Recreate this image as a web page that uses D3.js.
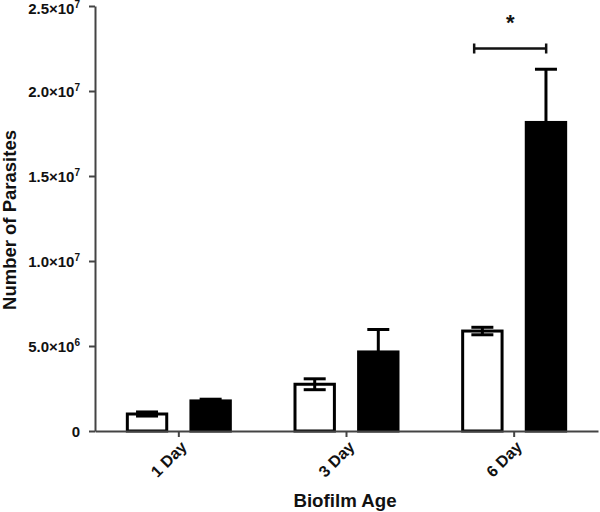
<!DOCTYPE html>
<html><head><meta charset="utf-8">
<script src="https://cdn.jsdelivr.net/npm/d3@7"></script>
<style>body{margin:0;background:#fff}svg{display:block}text{font-family:"Liberation Sans",Arial,sans-serif}</style>
</head><body>
<svg id="c" width="600" height="512"></svg>
<script>
const categories = ["1 Day", "3 Day", "6 Day"];
const seriesNames = ["Open", "Filled"];
const openValues = [1.0e6, 2.75e6, 5.88e6];
const openErrors = [0.12e6, 0.32e6, 0.22e6];
const filledValues = [1.77e6, 4.65e6, 18.15e6];
const filledErrors = [0.1e6, 1.32e6, 3.13e6];
const yTicks = [0, 5e6, 1e7, 1.5e7, 2e7, 2.5e7];
const yTickMantissa = ["0", "5.0×10", "1.0×10", "1.5×10", "2.0×10", "2.5×10"];
const yTickExponent = ["", "6", "7", "7", "7", "7"];
const sigBracket = {category: "6 Day", level: 2.25e7, label: "*"};

(function () {
const svg = d3.select("#c");
const mLeft = 95, mRight = 598, mTop = 6, mBottom = 431;
const x = d3.scaleBand().domain(categories).range([mLeft, mRight]).padding(0);
const sub = d3.scaleBand().domain(seriesNames).range([-53, 53]).paddingInner(1 / 3).paddingOuter(0);
const y = d3.scaleLinear().domain([0, 2.5e7]).range([mBottom, mTop]);

const data = [];
categories.forEach((c, i) => {
  data.push({c, s: "Open", v: openValues[i], e: openErrors[i]});
  data.push({c, s: "Filled", v: filledValues[i], e: filledErrors[i]});
});
const cx = d => x(d.c) + x.bandwidth() / 2 + sub(d.s) + sub.bandwidth() / 2;
const hw = 11;

// filled error bars (upper only)
const eg = svg.append("g").attr("stroke", "#000").attr("stroke-width", 3);
data.filter(d => d.s === "Filled").forEach(d => {
  const xc = cx(d);
  eg.append("line").attr("x1", xc).attr("x2", xc).attr("y1", y(d.v + d.e)).attr("y2", y(d.v));
  eg.append("line").attr("x1", xc - hw).attr("x2", xc + hw).attr("y1", y(d.v + d.e)).attr("y2", y(d.v + d.e));
});

// bars
svg.append("g").selectAll("rect").data(data).join("rect")
  .attr("x", d => cx(d) - sub.bandwidth() / 2 + 1.5)
  .attr("width", sub.bandwidth() - 3)
  .attr("y", d => y(d.v))
  .attr("height", d => y(0) - y(d.v))
  .attr("fill", d => d.s === "Open" ? "#fff" : "#000")
  .attr("stroke", "#000").attr("stroke-width", 3);

// open error bars (both directions)
data.filter(d => d.s === "Open").forEach(d => {
  const xc = cx(d);
  const g = svg.append("g").attr("stroke", "#000").attr("stroke-width", 3);
  g.append("line").attr("x1", xc).attr("x2", xc).attr("y1", y(d.v + d.e)).attr("y2", y(d.v - d.e));
  g.append("line").attr("x1", xc - hw).attr("x2", xc + hw).attr("y1", y(d.v + d.e)).attr("y2", y(d.v + d.e));
  g.append("line").attr("x1", xc - hw).attr("x2", xc + hw).attr("y1", y(d.v - d.e)).attr("y2", y(d.v - d.e));
});

// y axis
const yAxis = d3.axisLeft(y).tickValues(yTicks).tickFormat(() => "").tickSize(6).tickSizeOuter(0);
const ya = svg.append("g").attr("transform", `translate(${mLeft},0)`).call(yAxis);
ya.select(".domain").attr("stroke", "#444").attr("stroke-width", 2);
ya.selectAll(".tick line").attr("stroke", "#444").attr("stroke-width", 2);
ya.selectAll(".tick text").each(function (d, i) {
  const t = d3.select(this).attr("x", -15).attr("font-size", 15).attr("font-weight", "bold")
    .attr("fill", "#111").attr("dy", "0.36em").text(null);
  t.append("tspan").text(yTickMantissa[i]);
  if (yTickExponent[i]) t.append("tspan").attr("font-size", 10).attr("dy", "-0.6em").text(yTickExponent[i]);
});
ya.selectAll(".tick").filter(d => d === 2.5e7).select("text").attr("dy", "0.5em");

// x axis
const xAxis = d3.axisBottom(x).tickSize(6).tickSizeOuter(0);
const xa = svg.append("g").attr("transform", `translate(0,${mBottom})`).call(xAxis);
xa.select(".domain").attr("stroke", "#444").attr("stroke-width", 2);
xa.selectAll(".tick line").attr("stroke", "#444").attr("stroke-width", 2);
xa.selectAll(".tick text").attr("font-size", 16).attr("font-weight", "bold").attr("fill", "#111")
  .attr("text-anchor", "end").attr("dy", "0.35em").attr("y", 0)
  .attr("transform", "translate(5,13) rotate(-45)");

// axis titles
svg.append("text").attr("x", 345).attr("y", 507).attr("text-anchor", "middle")
  .attr("font-size", 18.7).attr("font-weight", "bold").attr("fill", "#111").text("Biofilm Age");
svg.append("text").attr("transform", "translate(16,220) rotate(-90)").attr("text-anchor", "middle")
  .attr("font-size", 18.5).attr("font-weight", "bold").attr("fill", "#111").text("Number of Parasites");

// significance bracket
const bx0 = x(sigBracket.category) + x.bandwidth() / 2 - 40;
const bx1 = x(sigBracket.category) + x.bandwidth() / 2 + 32;
const by = y(sigBracket.level);
const sg = svg.append("g").attr("stroke", "#111").attr("stroke-width", 2.5);
sg.append("line").attr("x1", bx0).attr("x2", bx1).attr("y1", by).attr("y2", by);
sg.append("line").attr("x1", bx0).attr("x2", bx0).attr("y1", by - 5).attr("y2", by + 5);
sg.append("line").attr("x1", bx1).attr("x2", bx1).attr("y1", by - 5).attr("y2", by + 5);
svg.append("text").attr("x", (bx0 + bx1) / 2).attr("y", 30).attr("text-anchor", "middle")
  .attr("font-size", 22).attr("font-weight", "bold").attr("fill", "#111").text(sigBracket.label);
})();
</script>
</body></html>
